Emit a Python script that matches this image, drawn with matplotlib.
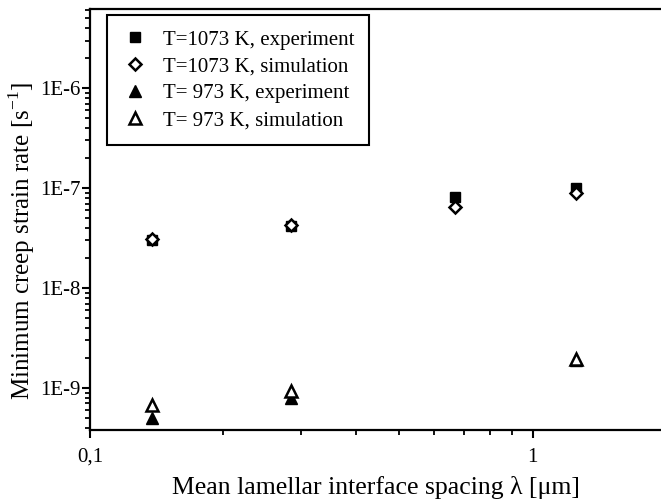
import matplotlib
matplotlib.use("Agg")
import matplotlib.pyplot as plt
from matplotlib.ticker import LogLocator, FixedLocator, FixedFormatter, NullFormatter

plt.rcParams['font.family'] = ['Liberation Serif', 'DejaVu Serif']
plt.rcParams['mathtext.fontset'] = 'custom'
plt.rcParams['mathtext.rm'] = 'Liberation Serif'

# Mean lamellar interface spacing (um)
spacing_1073 = [0.138, 0.284, 0.667, 1.256]
spacing_973 = [0.138, 0.284, 1.256]

# Minimum creep strain rates (1/s)
rate_1073_exp = [3.0e-8, 4.2e-8, 8.2e-8, 1.0e-7]
rate_1073_sim = [3.1e-8, 4.3e-8, 6.5e-8, 8.9e-8]
rate_973_exp = [5.0e-10, 7.9e-10, 1.9e-9]
rate_973_sim = [6.8e-10, 9.3e-10, 1.95e-9]

labels = ["T=1073 K, experiment", "T=1073 K, simulation",
          "T= 973 K, experiment", "T= 973 K, simulation"]

fig = plt.figure(figsize=(6.61, 5.04), dpi=100)
ax = fig.add_axes([0.136, 0.147, 0.864, 0.835])

ax.plot(spacing_1073, rate_1073_exp, ls='none', marker='s', ms=7, mfc='black', mec='black', label=labels[0])
ax.plot(spacing_1073, rate_1073_sim, ls='none', marker='D', ms=6.5, mfc='white', mec='black', mew=1.8, label=labels[1])
ax.plot(spacing_973, rate_973_exp, ls='none', marker='^', ms=8, mfc='black', mec='black', label=labels[2])
ax.plot(spacing_973, rate_973_sim, ls='none', marker='^', ms=8, mfc='white', mec='black', mew=1.8, label=labels[3])

ax.set_xscale('log')
ax.set_yscale('log')
ax.set_xlim(0.1, 1.95)
ax.set_ylim(3.8e-10, 6.2e-6)

for side in ['left', 'bottom', 'top']:
    ax.spines[side].set_linewidth(1.6)
ax.spines['right'].set_visible(False)

ax.xaxis.set_major_locator(FixedLocator([0.1, 1]))
ax.xaxis.set_major_formatter(FixedFormatter(['0,1', '1']))
ax.xaxis.set_minor_locator(LogLocator(base=10, subs=range(2, 10)))
ax.xaxis.set_minor_formatter(NullFormatter())

ax.yaxis.set_major_locator(FixedLocator([1e-9, 1e-8, 1e-7, 1e-6]))
ax.yaxis.set_major_formatter(FixedFormatter(['1E-9', '1E-8', '1E-7', '1E-6']))
ax.yaxis.set_minor_locator(LogLocator(base=10, subs=range(2, 10), numticks=20))
ax.yaxis.set_minor_formatter(NullFormatter())

ax.tick_params(axis='both', which='major', direction='out', length=6, width=1.5,
               labelsize=15, pad=1)
ax.tick_params(axis='x', which='major', pad=7)
ax.tick_params(axis='both', which='minor', direction='out', length=3.5, width=1.3)
ax.tick_params(top=False, right=False, which='both')

ax.set_xlabel('Mean lamellar interface spacing λ [μm]', fontsize=18.5)
ax.xaxis.set_label_coords(0.5, -0.11)
ax.set_ylabel('Minimum creep strain rate [s$^{-1}$]', fontsize=18)
ax.yaxis.set_label_coords(-0.092, 0.45)

leg = ax.legend(loc='upper left', bbox_to_anchor=(0.03, 0.985), fontsize=15,
                frameon=True, fancybox=False, edgecolor='black', framealpha=1,
                borderpad=0.7, labelspacing=0.35, handletextpad=0.7, handlelength=1.3,
                borderaxespad=0)
leg.get_frame().set_linewidth(1.5)

fig.savefig('out.png', dpi=100)
